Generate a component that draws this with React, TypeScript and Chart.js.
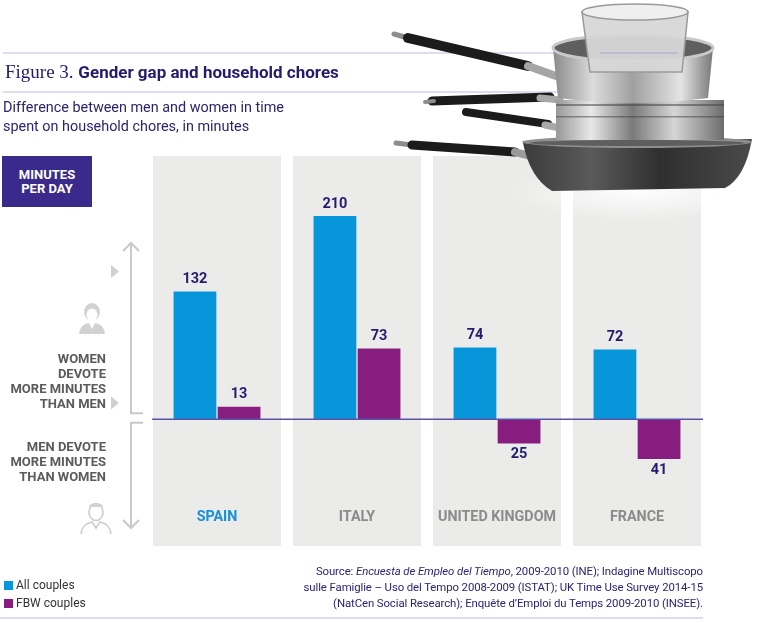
import React, { useEffect, useRef } from "react";
import { Chart, registerables } from "chart.js";

Chart.register(...registerables);

const categories = ["SPAIN", "ITALY", "UNITED KINGDOM", "FRANCE"];
const allCouples = [132, 210, 74, 72];
const fbwCouples = [13, 73, -25, -41];
const seriesNames = ["All couples", "FBW couples"];
const yMin = -131;
const yMax = 272;

const BLUE = "#0896db";
const PURPLE = "#871d7f";
const NAVY = "#231b6e";
const PANEL = "#ebebea";
const SANS = "Roboto, 'Liberation Sans', sans-serif";

function drawPots(ctx: CanvasRenderingContext2D) {
  ctx.save();
  const stroke = (x1: number, y1: number, x2: number, y2: number, w: number, c: string) => {
    ctx.strokeStyle = c;
    ctx.lineWidth = w;
    ctx.lineCap = "round";
    ctx.beginPath();
    ctx.moveTo(x1, y1);
    ctx.lineTo(x2, y2);
    ctx.stroke();
  };
  // soft shadow/halo under frying pan
  ctx.save();
  ctx.translate(640, 192);
  ctx.scale(1, 0.22);
  const sh = ctx.createRadialGradient(0, 0, 10, 0, 0, 130);
  sh.addColorStop(0, "rgba(255,255,255,0.85)");
  sh.addColorStop(1, "rgba(255,255,255,0)");
  ctx.fillStyle = sh;
  ctx.beginPath();
  ctx.arc(0, 0, 130, 0, Math.PI * 2);
  ctx.fill();
  ctx.restore();

  // frying pan handle
  stroke(396, 143, 412, 145, 5, "#8d8d8d");
  stroke(412, 145, 515, 152, 9, "#1b1b1b");
  stroke(515, 152, 530, 156, 8, "#9a9a9a");
  // frying pan body
  const fg = ctx.createLinearGradient(523, 0, 752, 0);
  fg.addColorStop(0, "#3b3b3b");
  fg.addColorStop(0.3, "#5a5a5a");
  fg.addColorStop(0.6, "#2f2f2f");
  fg.addColorStop(1, "#4a4a4a");
  ctx.fillStyle = fg;
  ctx.beginPath();
  ctx.moveTo(523, 143);
  ctx.lineTo(752, 139);
  ctx.quadraticCurveTo(745, 178, 725, 188);
  ctx.lineTo(552, 191);
  ctx.quadraticCurveTo(530, 178, 523, 143);
  ctx.closePath();
  ctx.fill();
  ctx.fillStyle = "#8e8e8e";
  ctx.beginPath();
  ctx.ellipse(637, 142, 115, 6, 0, 0, Math.PI * 2);
  ctx.fill();
  ctx.fillStyle = "#5e5e5e";
  ctx.beginPath();
  ctx.ellipse(637, 143, 108, 3, 0, 0, Math.PI * 2);
  ctx.fill();

  // middle pot handles
  stroke(432, 101, 550, 97, 9, "#1b1b1b");
  stroke(425, 102, 434, 101, 4, "#8d8d8d");
  stroke(466, 112, 548, 124, 8, "#1b1b1b");
  stroke(540, 98, 560, 100, 7, "#a8a8a8");
  stroke(545, 125, 560, 128, 7, "#a8a8a8");
  // middle pot body
  const mg = ctx.createLinearGradient(558, 0, 724, 0);
  mg.addColorStop(0, "#9c9c9c");
  mg.addColorStop(0.2, "#e8e8e8");
  mg.addColorStop(0.45, "#7a7a7a");
  mg.addColorStop(0.7, "#d6d6d6");
  mg.addColorStop(1, "#6c6c6c");
  ctx.fillStyle = mg;
  ctx.fillRect(556, 100, 168, 40);
  ctx.fillStyle = "rgba(60,60,60,0.5)";
  ctx.fillRect(556, 104, 168, 2);
  ctx.fillRect(556, 116, 168, 1.5);

  // saucepan handle
  stroke(394, 34, 408, 38, 5, "#8d8d8d");
  stroke(408, 38, 528, 66, 10, "#1b1b1b");
  stroke(528, 66, 556, 76, 8, "#a5a5a5");
  // saucepan body
  const sg = ctx.createLinearGradient(553, 0, 713, 0);
  sg.addColorStop(0, "#8a8a8a");
  sg.addColorStop(0.25, "#dcdcdc");
  sg.addColorStop(0.5, "#a0a0a0");
  sg.addColorStop(0.8, "#e4e4e4");
  sg.addColorStop(1, "#777");
  ctx.fillStyle = sg;
  ctx.beginPath();
  ctx.moveTo(553, 48);
  ctx.lineTo(713, 48);
  ctx.lineTo(708, 98);
  ctx.quadraticCurveTo(633, 108, 558, 98);
  ctx.closePath();
  ctx.fill();
  ctx.fillStyle = "#5f5f5f";
  ctx.beginPath();
  ctx.ellipse(633, 48, 80, 13, 0, 0, Math.PI * 2);
  ctx.fill();
  ctx.strokeStyle = "#c9c9c9";
  ctx.lineWidth = 3;
  ctx.beginPath();
  ctx.ellipse(633, 48, 80, 13, 0, 0, Math.PI * 2);
  ctx.stroke();

  // glass jug
  ctx.fillStyle = "rgba(215,215,215,0.95)";
  ctx.beginPath();
  ctx.moveTo(582, 12);
  ctx.lineTo(688, 12);
  ctx.lineTo(682, 72);
  ctx.lineTo(590, 72);
  ctx.closePath();
  ctx.fill();
  ctx.strokeStyle = "#9a9a9a";
  ctx.lineWidth = 1.5;
  ctx.stroke();
  ctx.fillStyle = "#efefef";
  ctx.beginPath();
  ctx.ellipse(635, 12, 53, 8, 0, 0, Math.PI * 2);
  ctx.fill();
  ctx.stroke();
  // rule line seen through the glass
  ctx.strokeStyle = "rgba(140,135,200,0.6)";
  ctx.lineWidth = 1;
  ctx.beginPath();
  ctx.moveTo(600, 53);
  ctx.lineTo(677, 53);
  ctx.stroke();
  ctx.restore();
}

function drawPerson(ctx: CanvasRenderingContext2D, cx: number, cy: number, female: boolean) {
  ctx.save();
  ctx.fillStyle = "#d2d2d2";
  ctx.strokeStyle = "#cdcdcd";
  ctx.lineWidth = 1.6;
  if (female) {
    ctx.beginPath();
    ctx.ellipse(cx, cy - 2, 8, 9, 0, 0, Math.PI * 2);
    ctx.fill();
    ctx.fillStyle = "#fff";
    ctx.beginPath();
    ctx.ellipse(cx, cy + 1, 5.5, 6.5, 0, 0, Math.PI * 2);
    ctx.fill();
    ctx.fillStyle = "#d2d2d2";
    ctx.beginPath();
    ctx.moveTo(cx - 13, cy + 20);
    ctx.quadraticCurveTo(cx - 12, cy + 10, cx - 3, cy + 9);
    ctx.lineTo(cx + 3, cy + 9);
    ctx.quadraticCurveTo(cx + 12, cy + 10, cx + 13, cy + 20);
    ctx.closePath();
    ctx.fill();
    ctx.fillStyle = "#fff";
    ctx.beginPath();
    ctx.moveTo(cx - 3, cy + 9);
    ctx.lineTo(cx, cy + 15);
    ctx.lineTo(cx + 3, cy + 9);
    ctx.fill();
  } else {
    ctx.beginPath();
    ctx.ellipse(cx, cy, 7, 8.5, 0, 0, Math.PI * 2);
    ctx.stroke();
    ctx.beginPath();
    ctx.ellipse(cx, cy - 5, 7, 4, 0, Math.PI, Math.PI * 2);
    ctx.fill();
    ctx.beginPath();
    ctx.moveTo(cx - 15, cy + 22);
    ctx.quadraticCurveTo(cx - 14, cy + 12, cx - 4, cy + 10);
    ctx.lineTo(cx, cy + 16);
    ctx.lineTo(cx + 4, cy + 10);
    ctx.quadraticCurveTo(cx + 14, cy + 12, cx + 15, cy + 22);
    ctx.stroke();
  }
  ctx.restore();
}

const decorPlugin = {
  id: "decor",
  beforeDraw(chart: any) {
    const ctx = chart.ctx as CanvasRenderingContext2D;
    ctx.save();
    ctx.strokeStyle = "#bdb9dd";
    ctx.lineWidth = 1.2;
    ctx.beginPath();
    ctx.moveTo(3, 53);
    ctx.lineTo(600, 53);
    ctx.moveTo(3, 92);
    ctx.lineTo(600, 92);
    ctx.moveTo(0, 618);
    ctx.lineTo(703, 618);
    ctx.stroke();
    ctx.restore();
  },
  beforeDatasetsDraw(chart: any) {
    const ctx = chart.ctx as CanvasRenderingContext2D;
    const x = chart.scales.x;
    const { top, bottom } = chart.chartArea;
    ctx.save();
    ctx.fillStyle = PANEL;
    categories.forEach((_, i) => {
      const cx = x.getPixelForValue(i);
      ctx.fillRect(cx - 64, top, 128, bottom - top);
    });
    ctx.restore();
  },
  afterDatasetsDraw(chart: any) {
    const ctx = chart.ctx as CanvasRenderingContext2D;
    const x = chart.scales.x;
    const y = chart.scales.y;
    const zero = y.getPixelForValue(0);
    const x0 = x.getPixelForValue(0) - 65;
    const x1 = x.getPixelForValue(categories.length - 1) + 66;
    ctx.save();
    ctx.strokeStyle = "#5a54a8";
    ctx.lineWidth = 1.4;
    ctx.beginPath();
    ctx.moveTo(x0, zero);
    ctx.lineTo(x1, zero);
    ctx.stroke();

    // value labels
    ctx.font = `bold 14.5px ${SANS}`;
    ctx.fillStyle = NAVY;
    ctx.textAlign = "center";
    ctx.textBaseline = "middle";
    chart.data.datasets.forEach((ds: any, di: number) => {
      const meta = chart.getDatasetMeta(di);
      meta.data.forEach((bar: any, i: number) => {
        const v = ds.data[i];
        const ly = v >= 0 ? bar.y - 12 : bar.y + 11;
        ctx.fillText(String(Math.abs(v)), bar.x, ly);
      });
    });

    // category labels
    ctx.font = `bold 14.3px ${SANS}`;
    const labelY = y.getPixelForValue(0) + 98.5;
    categories.forEach((c, i) => {
      ctx.fillStyle = i === 0 ? "#1790d7" : "#8b8b8b";
      ctx.fillText(c, x.getPixelForValue(i), labelY);
    });

    // left arrows / brackets
    ctx.strokeStyle = "#c9c9c9";
    ctx.lineWidth = 2;
    ctx.lineCap = "butt";
    ctx.beginPath();
    ctx.moveTo(143, zero - 6);
    ctx.lineTo(131, zero - 6);
    ctx.lineTo(131, 244);
    ctx.moveTo(123, 251);
    ctx.lineTo(131, 243);
    ctx.lineTo(139, 251);
    ctx.moveTo(143, zero + 3.5);
    ctx.lineTo(131, zero + 3.5);
    ctx.lineTo(131, 527);
    ctx.moveTo(123, 520);
    ctx.lineTo(131, 528);
    ctx.lineTo(139, 520);
    ctx.stroke();

    ctx.fillStyle = "#d0d0d0";
    [271.5, 403].forEach((ty) => {
      ctx.beginPath();
      ctx.moveTo(111, ty - 6.5);
      ctx.lineTo(119, ty);
      ctx.lineTo(111, ty + 6.5);
      ctx.closePath();
      ctx.fill();
    });
    ctx.restore();

    drawPerson(ctx, 92, 314, true);
    drawPerson(ctx, 96, 512, false);
  },
  afterDraw(chart: any) {
    drawPots(chart.ctx);
  },
};

export default function App() {
  const ref = useRef<HTMLCanvasElement | null>(null);

  useEffect(() => {
    document.body.style.margin = "0";
    if (!ref.current) return;
    const chart = new Chart(ref.current, {
      type: "bar",
      data: {
        labels: categories,
        datasets: [
          {
            label: seriesNames[0],
            data: allCouples,
            backgroundColor: BLUE,
            borderWidth: 0,
            categoryPercentage: 0.63,
            barPercentage: 0.97,
          },
          {
            label: seriesNames[1],
            data: fbwCouples,
            backgroundColor: PURPLE,
            borderWidth: 0,
            categoryPercentage: 0.63,
            barPercentage: 0.97,
          },
        ],
      },
      options: {
        animation: false,
        responsive: false,
        maintainAspectRatio: false,
        devicePixelRatio: 1,
        layout: { padding: { left: 147, right: 55, top: 156, bottom: 77 } },
        scales: {
          x: { display: false, grid: { display: false } },
          y: { display: false, min: yMin, max: yMax, grid: { display: false } },
        },
        plugins: {
          legend: { display: false },
          tooltip: { enabled: false },
        },
      },
      plugins: [decorPlugin],
    });
    return () => chart.destroy();
  }, []);

  const abs = (s: React.CSSProperties): React.CSSProperties => ({
    position: "absolute",
    margin: 0,
    whiteSpace: "nowrap",
    pointerEvents: "none",
    ...s,
  });

  const leftText: React.CSSProperties = {
    fontFamily: SANS,
    fontWeight: 700,
    fontSize: "13px",
    lineHeight: "15px",
    color: "#5b5b5b",
    textAlign: "right",
  };

  return (
    <div style={{ position: "relative", width: 762, height: 623, background: "#fff", overflow: "hidden" }}>
      <canvas ref={ref} width={762} height={623} style={{ position: "absolute", left: 0, top: 0 }} />

      <div style={abs({ left: 5, top: 60, lineHeight: "24px", color: NAVY })}>
        <span style={{ fontFamily: "'Liberation Serif', 'DejaVu Serif', serif", fontSize: "19px" }}>Figure 3. </span>
        <span style={{ fontFamily: SANS, fontWeight: 700, fontSize: "17px" }}>Gender gap and household chores</span>
      </div>

      <div style={abs({ left: 3, top: 99, fontFamily: SANS, fontSize: "14.4px", lineHeight: "18.5px", color: "#2a246f" })}>
        Difference between men and women in time
        <br />
        spent on household chores, in minutes
      </div>

      <div
        style={abs({
          left: 2,
          top: 156,
          width: 90,
          height: 51,
          background: "#3a2a8c",
          color: "#fff",
          fontFamily: SANS,
          fontWeight: 700,
          fontSize: "13px",
          lineHeight: "14px",
          textAlign: "center",
          display: "flex",
          flexDirection: "column",
          justifyContent: "center",
        })}
      >
        <div>MINUTES</div>
        <div>PER DAY</div>
      </div>

      <div style={abs({ ...leftText, right: 762 - 106, top: 351 })}>
        WOMEN
        <br />
        DEVOTE
        <br />
        MORE MINUTES
        <br />
        THAN MEN
      </div>
      <div style={abs({ ...leftText, right: 762 - 106, top: 438.5 })}>
        MEN DEVOTE
        <br />
        MORE MINUTES
        <br />
        THAN WOMEN
      </div>

      {seriesNames.map((n, i) => (
        <div key={n} style={abs({ left: 4, top: 578 + i * 18, fontFamily: SANS, fontSize: "12px", lineHeight: "14px", color: "#333", display: "flex", alignItems: "center" })}>
          <span style={{ display: "inline-block", width: 9, height: 9, background: i === 0 ? BLUE : PURPLE, marginRight: 3 }} />
          {n}
        </div>
      ))}

      <div
        style={abs({
          right: 762 - 703,
          top: 563,
          fontFamily: SANS,
          fontSize: "11.4px",
          lineHeight: "16px",
          color: "#2a2478",
          textAlign: "right",
          letterSpacing: "-0.1px",
        })}
      >
        Source: <i>Encuesta de Empleo del Tiempo</i>, 2009-2010 (INE); Indagine Multiscopo
        <br />
        sulle Famiglie – Uso del Tempo 2008-2009 (ISTAT); UK Time Use Survey 2014-15
        <br />
        (NatCen Social Research); Enquête d’Emploi du Temps 2009-2010 (INSEE).
      </div>
    </div>
  );
}
